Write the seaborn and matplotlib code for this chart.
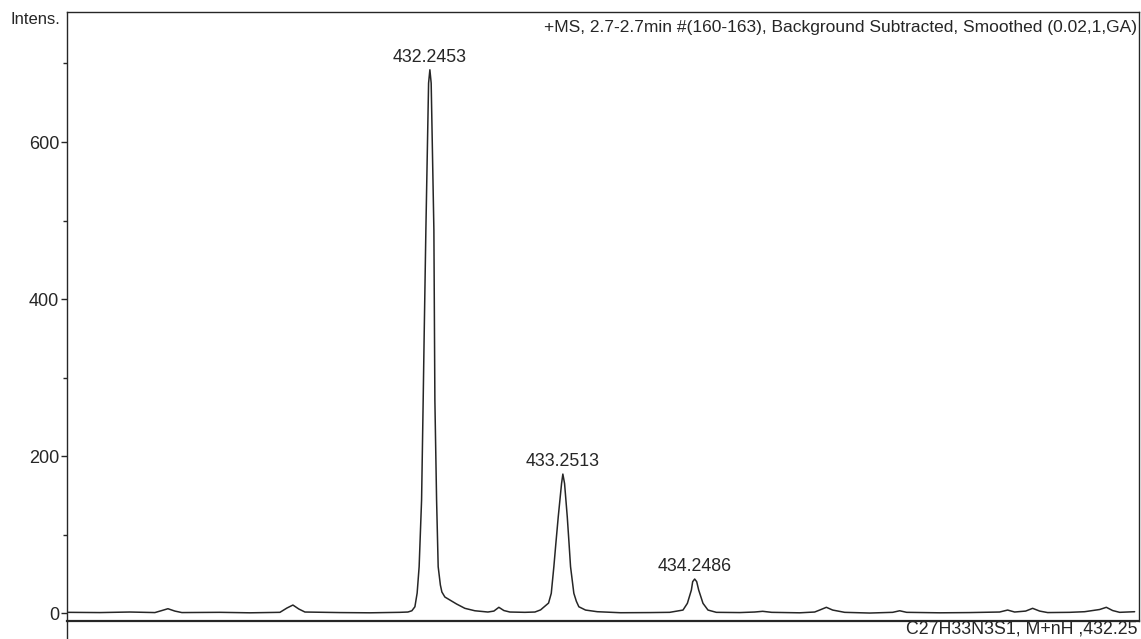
import matplotlib
matplotlib.use("Agg")
import matplotlib.pyplot as plt
from matplotlib.lines import Line2D
from matplotlib.ticker import FixedLocator
import seaborn as sns
import pandas as pd

# ---- data ----
mz = [429.4995, 429.749, 429.976, 430.165, 430.218, 430.2635, 430.316, 430.369,
      430.657, 430.884, 431.111, 431.164, 431.209, 431.254, 431.300, 431.5645,
      431.791, 432.018, 432.079, 432.109, 432.132, 432.149, 432.164, 432.1825,
      432.1946, 432.2014, 432.215, 432.2355, 432.2453, 432.2551, 432.2756,
      432.2805, 432.2831, 432.296, 432.3081, 432.3247, 432.3361, 432.3588,
      432.3966, 432.4473, 432.5101, 432.5857, 432.684, 432.7294, 432.7672,
      432.805, 432.8504, 432.9639, 433.04, 433.0826, 433.1431, 433.1636, 433.1832,
      433.1983, 433.2165, 433.2415, 433.2513, 433.2642, 433.2846, 433.2982,
      433.3095, 433.3345, 433.3534, 433.3723, 433.423, 433.5115, 433.6878, 433.9147,
      434.0595, 434.1601, 434.1934, 434.2236, 434.2335, 434.2486, 434.2637,
      434.2789, 434.3114,
      434.3492, 434.4127, 434.589, 434.7025, 434.763, 434.8311, 435.0429,
      435.1563, 435.1941, 435.2448, 435.2925, 435.3832, 435.5724, 435.7463,
      435.7993, 435.8522, 436.1018, 436.3288, 436.5557, 436.6162, 436.6692,
      436.7524, 436.8053, 436.8583, 436.9188, 437.0852, 437.1987, 437.3121,
      437.3628, 437.4105, 437.4634, 437.5769]
intensity = [0.9, 0.6, 1.3, 0.6, 3.2, 5.5, 2.5, 0.6,
             0.9, 0.3, 0.9, 6.4, 10.2, 5.1, 1.3, 0.6,
             0.3, 0.9, 1.3, 2.9, 8.0, 25.5, 59, 144,
             271, 346, 488, 675, 692, 675, 488,
             346, 271, 144, 59, 35.7, 26.8, 20.4,
             16.6, 11.5, 6.0, 2.9, 1.3, 2.5, 7.3,
             3.2, 1.3, 0.9, 1.3, 4.0, 12.7, 25.1, 59,
             88.5, 122.7, 165, 177, 165, 122.7, 88.5,
             59, 25.1, 15.0, 8.0, 3.8, 1.7, 0.4, 0.6,
             0.9, 3.8, 12.4, 29.3, 40.0, 43.3, 40.0,
             29.3, 12.4,
             3.8, 0.9, 0.6, 1.3, 2.2, 0.9, 0.3,
             1.3, 3.8, 7.3, 3.8, 0.9, 0.0, 0.9,
             2.9, 0.9, 0.3, 0.6, 1.3, 3.8, 1.3,
             2.5, 6.0, 2.5, 0.6, 0.9, 1.7, 4.5,
             7.3, 3.2, 0.9, 1.7]

peak_mz = [432.2453, 433.2513, 434.2486]
peak_int = [692, 177, 43.3]
peak_labels = ["432.2453", "433.2513", "434.2486"]

y_major = [0, 200, 400, 600]
y_minor = [100, 300, 500, 700]
x_range = (429.50, 437.61)
y_range = (-9.5, 765.6)

title_text = "+MS, 2.7-2.7min #(160-163), Background Subtracted, Smoothed (0.02,1,GA)"
formula_text = "C27H33N3S1, M+nH ,432.25"
ylabel_text = "Intens."

# ---- style ----
sns.set_style("ticks")
plt.rcParams["font.family"] = ["Liberation Sans", "DejaVu Sans"]
ink = "#262626"

W, H = 1141, 639
fig = plt.figure(figsize=(W / 100, H / 100), dpi=100)
left, right, top, bottom = 67 / W, 1139 / W, 1 - 12 / H, 1 - 620.5 / H
ax = fig.add_axes([left, bottom, right - left, top - bottom])

df = pd.DataFrame({"mz": mz, "intensity": intensity})
sns.lineplot(data=df, x="mz", y="intensity", ax=ax, color=ink, linewidth=1.1,
             estimator=None, sort=False)

for m, v, lab in zip(peak_mz, peak_int, peak_labels):
    ax.annotate(lab, xy=(m, v), xytext=(0, 3), textcoords="offset points",
                ha="center", va="bottom", fontsize=12.8, color=ink)

ax.set_xlim(*x_range)
ax.set_ylim(*y_range)
ax.yaxis.set_major_locator(FixedLocator(y_major))
ax.yaxis.set_minor_locator(FixedLocator(y_minor))
ax.set_xticks([])
ax.tick_params(axis="y", which="major", length=4, width=1, color=ink,
               labelsize=13, labelcolor=ink, pad=1.5)
ax.tick_params(axis="y", which="minor", length=3, width=1, color=ink)
ax.set_xlabel("")
ax.set_ylabel("")
for side in ["left", "top", "right"]:
    ax.spines[side].set_visible(True)
    ax.spines[side].set_linewidth(1.0)
    ax.spines[side].set_color(ink)
ax.spines["bottom"].set_linewidth(1.6)
ax.spines["bottom"].set_color(ink)

ax.text(0.998, 0.987, title_text, transform=ax.transAxes, ha="right", va="top",
        fontsize=12.5, color=ink)

# left axis line continues below the bottom rule
fig.add_artist(Line2D([left, left], [0, bottom], transform=fig.transFigure,
                      color=ink, linewidth=1.0))

fig.text(60 / W, 1 - 20 / H, ylabel_text, ha="right", va="center",
         fontsize=12, color=ink)
fig.text(1137 / W, 1 - 629 / H, formula_text, ha="right", va="center",
         fontsize=12.8, color=ink)

fig.savefig("out.png", dpi=100, facecolor="white")
